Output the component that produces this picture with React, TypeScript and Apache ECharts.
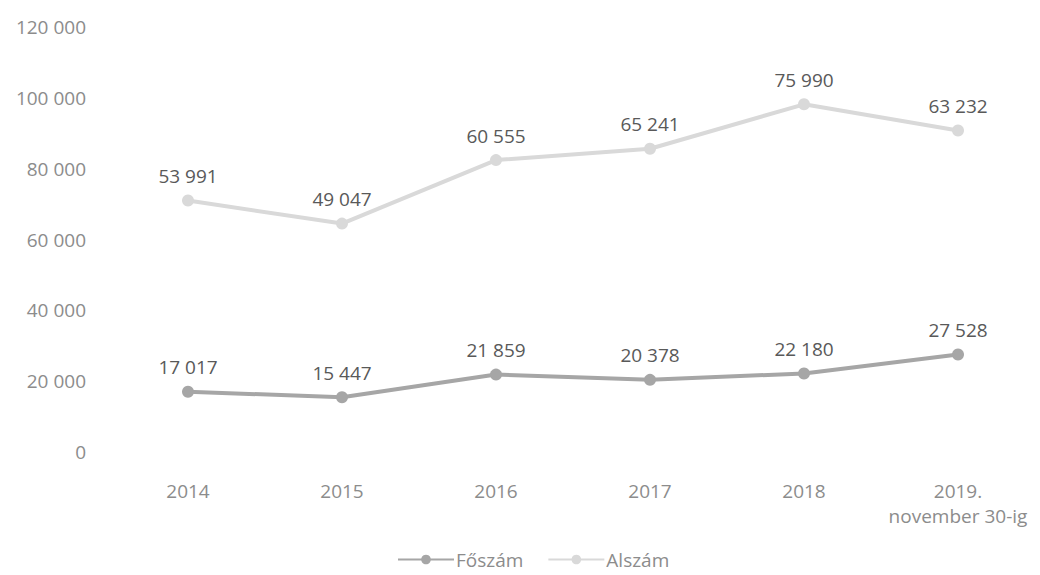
import React, { useEffect, useRef } from "react";
import * as echarts from "echarts";

const categories = ["2014", "2015", "2016", "2017", "2018", "2019.\nnovember 30-ig"];
const foszam = [17017, 15447, 21859, 20378, 22180, 27528];
const alszam = [53991, 49047, 60555, 65241, 75990, 63232];

const fmt = (v: number) => String(v).replace(/\B(?=(\d{3})+(?!\d))/g, " ");

export default function App() {
  const ref = useRef<HTMLDivElement>(null);
  useEffect(() => {
    const chart = echarts.init(ref.current!, undefined, { renderer: "svg" });
    const font = "'Open Sans', sans-serif";
    const label = {
      show: true,
      position: "top",
      distance: 9,
      color: "#595959",
      fontSize: 19,
      formatter: (p: any) => fmt(p.value),
    };
    chart.setOption({
      animation: false,
      textStyle: { fontFamily: font },
      grid: { left: 111, right: 5, top: 27, bottom: 123 },
      legend: {
        bottom: 1,
        left: 392,
        itemWidth: 56,
        itemHeight: 12,
        itemGap: 24,
        textStyle: { color: "#8c8c8c", fontSize: 19, fontFamily: font, padding: [0, 0, 0, -3] },
        data: ["Főszám", "Alszám"],
      },
      xAxis: {
        type: "category",
        data: categories,
        axisLine: { show: false },
        axisTick: { show: false },
        axisLabel: { color: "#8c8c8c", fontSize: 19, margin: 26, lineHeight: 25, interval: 0 },
      },
      yAxis: {
        type: "value",
        min: 0,
        max: 120000,
        interval: 20000,
        splitLine: { show: false },
        axisLabel: { color: "#8c8c8c", fontSize: 19, margin: 25, formatter: (v: number) => fmt(v) },
      },
      series: [
        {
          name: "Főszám",
          type: "line",
          stack: "total",
          data: foszam,
          symbol: "circle",
          symbolSize: 12,
          lineStyle: { color: "#a6a6a6", width: 4 },
          itemStyle: { color: "#a6a6a6" },
          label,
        },
        {
          name: "Alszám",
          type: "line",
          stack: "total",
          data: alszam,
          symbol: "circle",
          symbolSize: 12,
          lineStyle: { color: "#d9d9d9", width: 4 },
          itemStyle: { color: "#d9d9d9" },
          label,
        },
      ],
    });
    return () => chart.dispose();
  }, []);
  return (
    <div
      ref={ref}
      style={{ position: "absolute", left: 0, top: 0, width: 1040, height: 575 }}
    />
  );
}
